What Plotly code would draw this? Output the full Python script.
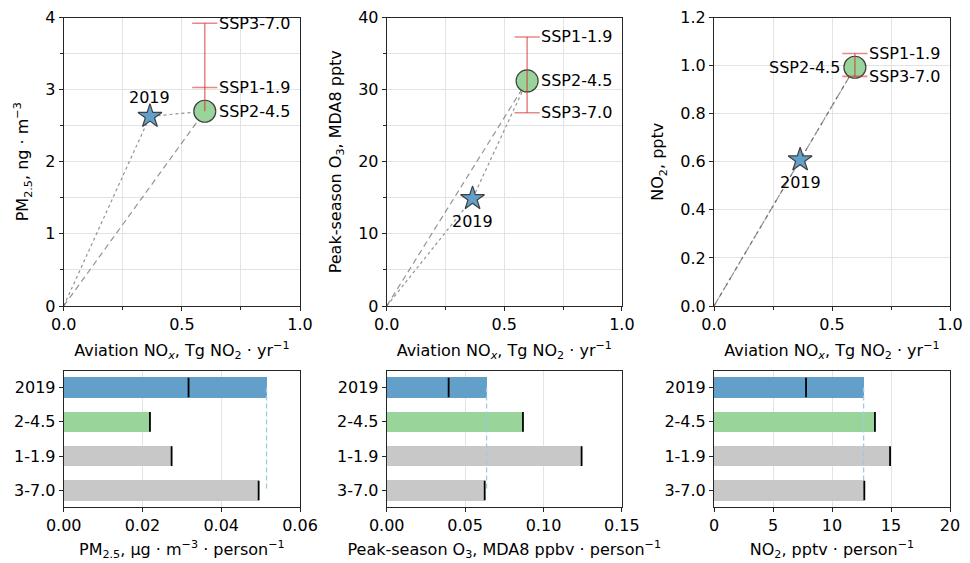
import plotly.graph_objects as go

# ---------------- data ----------------
nox_2019 = 0.365
nox_2050 = 0.597
scenarios = ["SSP1-1.9", "SSP2-4.5", "SSP3-7.0"]

pm_2019 = 2.63
pm_ssp = [3.03, 2.70, 3.92]
o3_2019 = 14.9
o3_ssp = [37.3, 31.2, 26.8]
no2_2019 = 0.608
no2_ssp = [1.05, 0.993, 0.955]

bar_labels = ["2019", "2-4.5", "1-1.9", "3-7.0"]
pm_pp = [0.0515, 0.0219, 0.0274, 0.0495]
pm_pp_tick = [0.0317, 0.0219, 0.0274, 0.0495]
o3_pp = [0.0637, 0.0869, 0.1243, 0.0625]
o3_pp_tick = [0.0395, 0.0869, 0.1243, 0.0625]
no2_pp = [12.68, 13.64, 14.92, 12.74]
no2_pp_tick = [7.8, 13.64, 14.92, 12.74]

# ---------------- style ----------------
FONT = "DejaVu Sans"
FS = 16
BLUE = "#62a0ca"
GREEN = "#99d59a"
GRAY_BAR = "#c8c8c8"
RED = "rgba(214,39,40,0.55)"
EDGE = "#404040"
LINE = "rgba(90,90,90,0.65)"
GRID = "#e3e3e3"
SPINE = "#262626"

# page body has an 8px margin; keep figure within the 970x563 window
OFF = 8
W, H = 970 - OFF, 563 - OFF
cols_px = [(63.7, 300.0), (386.7, 621.9), (714.0, 950.0)]
top_px = (17.5, 306.0)
bot_px = (371.0, 507.0)


def xd(c):
    return [(c[0] - OFF) / W, (c[1] - OFF) / W]


def yd(r):
    return [1 - (r[1] - OFF) / H, 1 - (r[0] - OFF) / H]


fig = go.Figure()

xtitle_top = "Aviation NO<sub><i>x</i></sub>, Tg NO<sub>2</sub> · yr<sup>−1</sup>"
ytitles_top = ["PM<sub>2.5</sub>, ng · m<sup>−3</sup>",
               "Peak-season O<sub>3</sub>, MDA8 pptv",
               "NO<sub>2</sub>, pptv"]
xtitles_bot = ["PM<sub>2.5</sub>, µg · m<sup>−3</sup> · person<sup>−1</sup>",
               "Peak-season O<sub>3</sub>, MDA8 ppbv · person<sup>−1</sup>",
               "NO<sub>2</sub>, pptv · person<sup>−1</sup>"]

top_vals = [(pm_2019, pm_ssp), (o3_2019, o3_ssp), (no2_2019, no2_ssp)]
top_yrange = [(0, 4, 1, 0.5, ""), (0, 40, 10, 5, ""), (0, 1.2, 0.2, None, ".1f")]
bot_data = [(pm_pp, pm_pp_tick, 0.06, 0.02, ".2f"),
            (o3_pp, o3_pp_tick, 0.15, 0.05, ".2f"),
            (no2_pp, no2_pp_tick, 20, 5, "")]

axis_common = dict(showline=True, linecolor=SPINE, linewidth=1, mirror=True,
                   ticks="outside", ticklen=4, tickcolor=SPINE, tickwidth=1,
                   gridcolor=GRID, gridwidth=1, zeroline=False, automargin=False,
                   ticklabeloverflow="allow",
                   tickfont=dict(family=FONT, size=FS, color="black"),
                   title_font=dict(family=FONT, size=FS, color="black"))

annotations = []

for i in range(3):
    xa = f"x{2*i+1}"
    ya = f"y{2*i+1}"
    y0, ssp = top_vals[i]
    ymin, ymax, dt, mdt, fmt = top_yrange[i]
    # lines
    fig.add_trace(go.Scatter(x=[0, nox_2019, nox_2050], y=[0, y0, ssp[1]], mode="lines",
                             line=dict(color=LINE, width=1.2, dash="dot"),
                             xaxis=xa, yaxis=ya, showlegend=False))
    fig.add_trace(go.Scatter(x=[0, nox_2050], y=[0, ssp[1]], mode="lines",
                             line=dict(color=LINE, width=1.2, dash="6px,4px"),
                             xaxis=xa, yaxis=ya, showlegend=False))
    # SSP2-4.5 circle
    fig.add_trace(go.Scatter(x=[nox_2050], y=[ssp[1]], mode="markers",
                             marker=dict(symbol="circle", size=22, color=GREEN,
                                         line=dict(color=EDGE, width=1.2)),
                             xaxis=xa, yaxis=ya, showlegend=False))
    # 2019 star
    fig.add_trace(go.Scatter(x=[nox_2019], y=[y0], mode="markers",
                             marker=dict(symbol="star", size=18, color=BLUE,
                                         line=dict(color=EDGE, width=1.2)),
                             xaxis=xa, yaxis=ya, showlegend=False))
    # range bar
    fig.add_trace(go.Scatter(x=[nox_2050, nox_2050], y=[min(ssp), max(ssp)], mode="lines",
                             line=dict(color=RED, width=1.6),
                             xaxis=xa, yaxis=ya, showlegend=False))
    fig.add_trace(go.Scatter(x=[nox_2050, nox_2050], y=[ssp[0], ssp[2]], mode="markers",
                             marker=dict(symbol="line-ew", size=18,
                                         line=dict(color=RED, width=1.6)),
                             xaxis=xa, yaxis=ya, showlegend=False))
    # labels
    ref = dict(xref=xa, yref=ya, showarrow=False,
               font=dict(family=FONT, size=FS, color="black"))
    for j, name in enumerate(scenarios):
        if i == 2 and j == 1:
            annotations.append(dict(ref, x=nox_2050, y=ssp[j], text=name,
                                    xanchor="right", yanchor="middle", xshift=-13))
        else:
            annotations.append(dict(ref, x=nox_2050, y=ssp[j], text=name,
                                    xanchor="left", yanchor="middle", xshift=12))
    if i == 0:
        annotations.append(dict(ref, x=nox_2019, y=y0, text="2019",
                                xanchor="center", yanchor="middle", yshift=19))
    else:
        annotations.append(dict(ref, x=nox_2019, y=y0, text="2019",
                                xanchor="center", yanchor="middle", yshift=-23))

    xkey = "xaxis" if i == 0 else f"xaxis{2*i+1}"
    ykey = "yaxis" if i == 0 else f"yaxis{2*i+1}"
    fig.update_layout({
        xkey: dict(axis_common, domain=xd(cols_px[i]), anchor=ya, range=[0, 1],
                   tick0=0, dtick=0.5, tickformat=".1f", showgrid=True,
                   minor=dict(dtick=0.25, ticks="outside", ticklen=2.5, tickcolor=SPINE,
                              showgrid=True, gridcolor=GRID),
                   title=dict(text=xtitle_top, standoff=11)),
        ykey: dict(axis_common, domain=yd(top_px), anchor=xa, range=[ymin, ymax],
                   tick0=0, dtick=dt, tickformat=fmt, showgrid=True,
                   minor=(dict(dtick=mdt, ticks="outside", ticklen=2.5, tickcolor=SPINE,
                               showgrid=True, gridcolor=GRID) if mdt else dict(showgrid=False)),
                   title=dict(text=ytitles_top[i], standoff=12)),
    })

# ---------------- bottom bar panels ----------------
bar_colors = [BLUE, GREEN, GRAY_BAR, GRAY_BAR]
ypos = list(range(len(bar_labels)))
for i in range(3):
    xa = f"x{2*i+2}"
    ya = f"y{2*i+2}"
    vals, ticks, xmax, dt, fmt = bot_data[i]
    fig.add_trace(go.Bar(x=vals, y=ypos, orientation="h", width=0.6,
                         marker=dict(color=bar_colors, line=dict(width=0)),
                         xaxis=xa, yaxis=ya, showlegend=False))
    fig.add_trace(go.Scatter(x=[vals[0], vals[0]], y=[ypos[0], ypos[-1]], mode="lines",
                             line=dict(color="#9ecae1", width=1.3, dash="5px,3px"),
                             xaxis=xa, yaxis=ya, showlegend=False))
    fig.add_trace(go.Scatter(x=ticks, y=ypos, mode="markers",
                             marker=dict(symbol="line-ns", size=14,
                                         line=dict(color="black", width=1.8)),
                             xaxis=xa, yaxis=ya, showlegend=False))
    xkey = f"xaxis{2*i+2}"
    ykey = f"yaxis{2*i+2}"
    fig.update_layout({
        xkey: dict(axis_common, domain=xd(cols_px[i]), anchor=ya, range=[0, xmax],
                   tick0=0, dtick=dt, tickformat=fmt, showgrid=True,
                   title=dict(text=xtitles_bot[i], standoff=9)),
        ykey: dict(axis_common, domain=yd(bot_px), anchor=xa, range=[3.48, -0.48],
                   tickmode="array", tickvals=ypos, ticktext=bar_labels, showgrid=False),
    })

fig.update_layout(width=W, height=H, margin=dict(l=0, r=0, t=0, b=0),
                  paper_bgcolor="white", plot_bgcolor="white",
                  font=dict(family=FONT, size=FS, color="black"),
                  annotations=annotations, bargap=0)

fig.write_html("out.html")
